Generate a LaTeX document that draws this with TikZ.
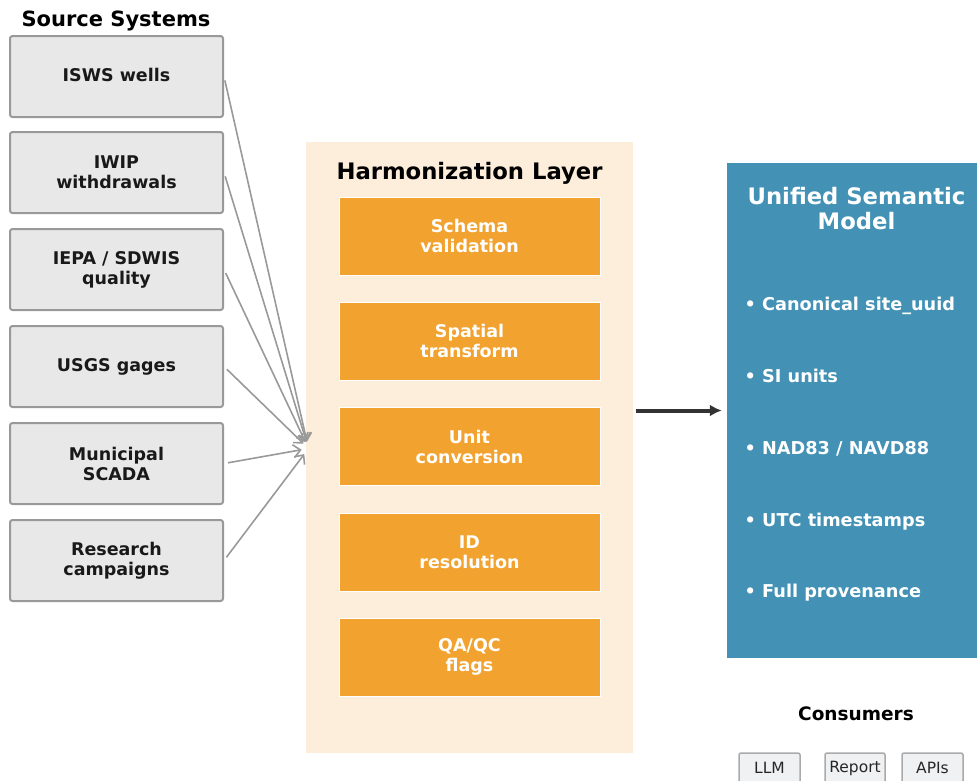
\documentclass[tikz,border=0pt]{standalone}
\usepackage{fontspec}
\setmainfont{DejaVu Sans}
\usetikzlibrary{arrows.meta,calc}
\definecolor{srcfill}{HTML}{E8E8E8}
\definecolor{srcdraw}{HTML}{999999}
\definecolor{panelbg}{HTML}{FCEEDB}
\definecolor{orangebox}{HTML}{F2A22E}
\definecolor{bluebox}{HTML}{4392B5}
\definecolor{darkarrow}{HTML}{333333}
\definecolor{btnfill}{HTML}{F0F1F3}
\definecolor{btndraw}{HTML}{AAAAAA}
\tikzset{
  srcbox/.style={draw=srcdraw, fill=srcfill, line width=2, rounded corners=2.5,
    minimum width=213, minimum height=81, inner sep=0, align=center,
    font=\fontsize{17.5}{20}\selectfont\bfseries, text=black!90},
  stepbox/.style={draw=white, fill=orangebox, line width=1,
    minimum width=261, minimum height=78, inner sep=0, align=center,
    font=\fontsize{17.5}{20}\selectfont\bfseries, text=white},
  bullet/.style={anchor=base west, inner sep=0, text=white,
    font=\fontsize{17.7}{20}\selectfont\bfseries},
  sectitle/.style={inner sep=0, align=center, font=\fontsize{22.7}{25}\selectfont\bfseries},
  feed/.style={draw=srcdraw, line width=1.6, shorten <=4, shorten >=7,
    -{Straight Barb[length=7,width=13,line width=1.6]}},
  btn/.style={draw=btndraw, fill=btnfill, line width=1.5, rounded corners=2,
    minimum width=61, minimum height=30, inner sep=0, font=\fontsize{15.5}{18}\selectfont, text=black!85}
}
\begin{document}
\begin{tikzpicture}[x=1pt,y=-1pt]
\useasboundingbox (0,0) rectangle (977,780);
% title
\node[sectitle, font=\fontsize{21}{24}\selectfont\bfseries] (srctitle) at (116,21) {Source Systems};
% source boxes
\node[srcbox] (s1) at (116.5,76.5) {ISWS wells\vphantom{g}};
\node[srcbox] (s2) at (116.5,172.5) {IWIP\\withdrawals};
\node[srcbox] (s3) at (116.5,269.5) {IEPA / SDWIS\\quality};
\node[srcbox] (s4) at (116.5,366.5) {USGS gages};
\node[srcbox] (s5) at (116.5,463.5) {Municipal\\SCADA};
\node[srcbox] (s6) at (116.5,560.5) {Research\\campaigns};
% panel
\node[fill=panelbg, minimum width=327, minimum height=611, inner sep=0] (panel) at (469.5,447.5) {};
\node[sectitle] (htitle) at (469.5,173) {Harmonization Layer};
\node[stepbox] (h1) at (469.5,236) {Schema\\validation};
\node[stepbox] (h2) at (469.5,341) {Spatial\\transform};
\node[stepbox] (h3) at (469.5,446.5) {Unit\\conversion};
\node[stepbox] (h4) at (469.5,552) {ID\\resolution};
\node[stepbox] (h5) at (469.5,657) {QA/QC\\flags};
% hub
\coordinate (hub) at (308.5,448.5);
\foreach \s in {s1,s2,s3,s4,s5,s6} \draw[feed] (\s.east) -- (hub);
% unified model
\node[fill=bluebox, minimum width=253, minimum height=495, inner sep=0] (usm) at (853.5,410.5) {};
\node[sectitle, text=white] (utitle) at (856.5,209) {Unified Semantic\\Model};
\node[bullet] (b1) at (744.5,310) {• Canonical site\_uuid};
\node[bullet] (b2) at (744.5,382) {• SI units};
\node[bullet] (b3) at (744.5,454) {• NAD83 / NAVD88};
\node[bullet] (b4) at (744.5,526) {• UTC timestamps};
\node[bullet] (b5) at (744.5,597) {• Full provenance};
% main arrow
\draw[darkarrow, line width=4, -{Latex[length=12,width=12]}, shorten <=3, shorten >=5]
  (panel.east |- usm.west) -- (usm.west);
% consumers
\node[inner sep=0, font=\fontsize{18.5}{22}\selectfont\bfseries] (ctitle) at (856,714) {Consumers};
\node[btn] (c1) at (769.5,768) {LLM};
\node[btn, minimum width=60] (c2) at (855,768) {Report};
\node[btn] (c3) at (932.5,768) {APIs};
\end{tikzpicture}
\end{document}
